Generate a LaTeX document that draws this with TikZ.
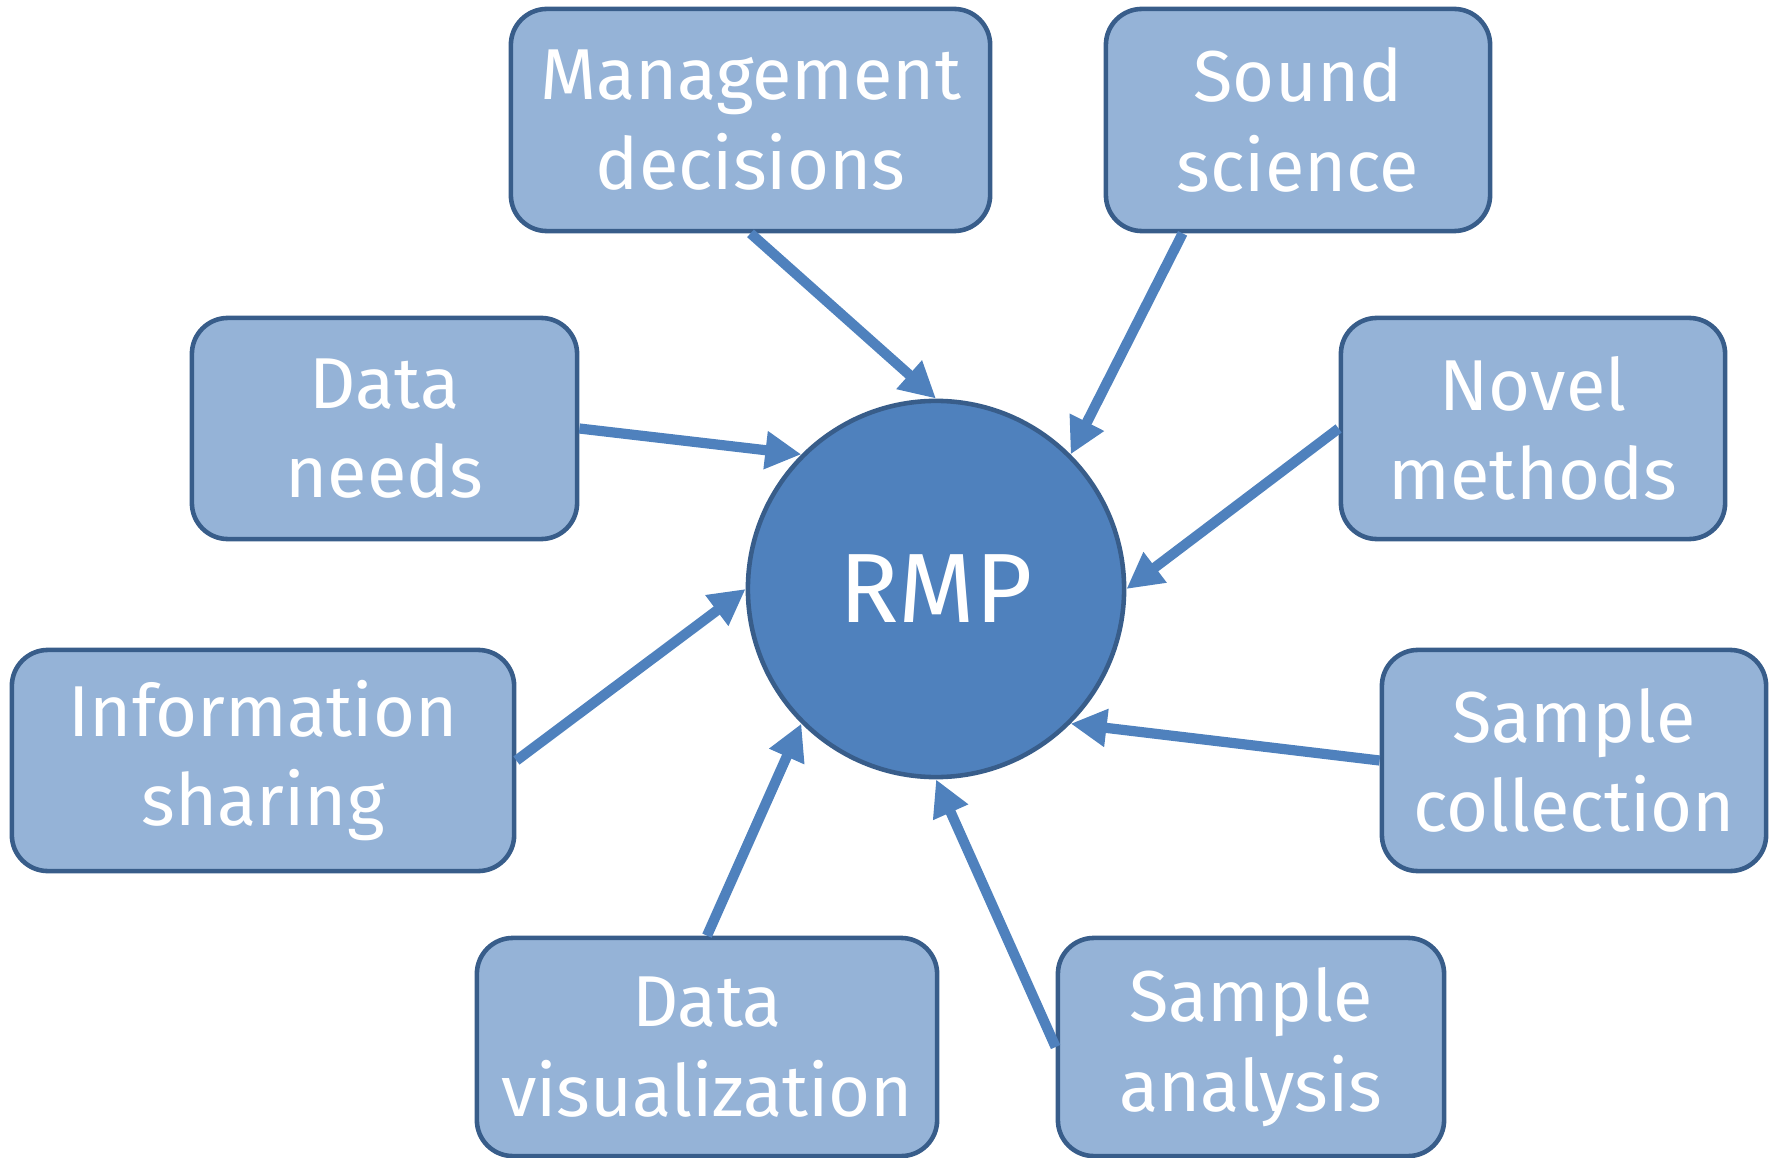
\documentclass[tikz,border=0pt]{standalone}
\usepackage{fontspec}
\setmainfont{Fira Sans}
\usetikzlibrary{arrows.meta,calc}
\definecolor{boxfill}{HTML}{95B3D7}
\definecolor{boxline}{HTML}{385D8A}
\definecolor{mainblue}{HTML}{4F81BD}
\begin{document}
\begin{tikzpicture}[x=0.01cm,y=-0.01cm,
  infobox/.style={draw=boxline,line width=1.3pt,fill=boxfill,rounded corners=0.36cm,
    text=white,align=center,font=\fontsize{20.5}{25.5}\selectfont,inner sep=0pt},
  link/.style={draw=mainblue,line width=2.9pt,-{Triangle[length=0.36cm,width=0.36cm]}}]
\useasboundingbox (0,0) rectangle (1773,1158);
\node[infobox,minimum width=4.79cm,minimum height=2.22cm] (mg) at (750.5,120) {Management\\decisions};
\node[infobox,minimum width=3.84cm,minimum height=2.22cm] (ss) at (1298,120) {Sound\\science};
\node[infobox,minimum width=3.85cm,minimum height=2.21cm] (dn) at (384.5,428.5) {Data\\needs};
\node[infobox,minimum width=3.84cm,minimum height=2.21cm] (nm) at (1533,428.5) {Novel\\methods};
\node[infobox,minimum width=5.02cm,minimum height=2.21cm] (is) at (263,760.5) {Information\\sharing};
\node[infobox,minimum width=3.84cm,minimum height=2.21cm] (sc) at (1574,760.5) {Sample\\collection};
\node[infobox,minimum width=4.60cm,minimum height=2.18cm] (dv) at (707,1047) {Data\\visualization};
\node[infobox,minimum width=3.86cm,minimum height=2.18cm] (sa) at (1251,1047) {Sample\\analysis};
\node[circle,draw=boxline,line width=1.3pt,fill=mainblue,minimum size=3.76cm,inner sep=0pt,
  text=white,font=\fontsize{28}{32}\selectfont] (rmp) at (936,589) {RMP};
\draw[link] (mg.south) -- (rmp.north);
\draw[link] ($(ss.south west)+(79,0)$) -- (rmp.45);
\draw[link] (dn.east) -- (rmp.135);
\draw[link] (nm.west) -- (rmp.east);
\draw[link] (is.east) -- (rmp.west);
\draw[link] (sc.west) -- (rmp.-45);
\draw[link] (dv.north) -- (rmp.-135);
\draw[link] (sa.west) -- (rmp.south);
\end{tikzpicture}
\end{document}
